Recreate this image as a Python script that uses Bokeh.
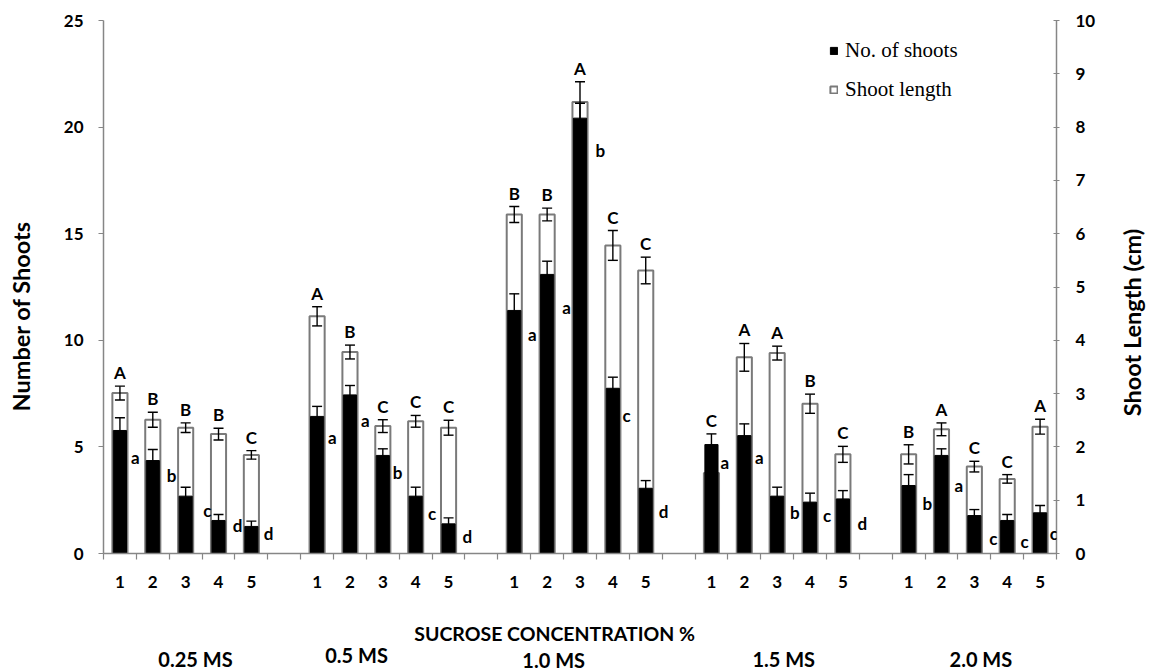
from bokeh.plotting import figure
from bokeh.layouts import row, column
from bokeh.models import (Range1d, LinearAxis, FixedTicker, ColumnDataSource,
                          Legend, LegendItem, LabelSet, Label)
from bokeh.core.properties import value
from bokeh.embed import file_html
from bokeh.resources import INLINE

# ---------------- data ----------------
groups = ["0.25 MS", "0.5 MS", "1.0 MS", "1.5 MS", "2.0 MS"]
treatments = ["1", "2", "3", "4", "5"]

# Number of shoots (left axis) and standard errors
shoots = [5.77, 4.36, 2.69, 1.55, 1.27,
          6.43, 7.44, 4.60, 2.69, 1.39,
          11.40, 13.09, 20.42, 7.75, 3.06,
          5.11, 5.53, 2.69, 2.41, 2.56,
          3.19, 4.60, 1.78, 1.55, 1.91]
shoots_se = [0.60, 0.52, 0.42, 0.28, 0.25,
             0.47, 0.44, 0.31, 0.42, 0.28,
             0.78, 0.62, 0.70, 0.52, 0.36,
             0.50, 0.55, 0.42, 0.42, 0.39,
             0.51, 0.31, 0.28, 0.28, 0.34]

# Shoot length in cm (right axis) and standard errors
length_cm = [3.01, 2.51, 2.36, 2.24, 1.85,
             4.45, 3.78, 2.39, 2.48, 2.36,
             6.36, 6.36, 8.47, 5.78, 5.31,
             1.51, 3.68, 3.76, 2.81, 1.86,
             1.86, 2.33, 1.63, 1.40, 2.38]
length_se = [0.13, 0.14, 0.09, 0.11, 0.08,
             0.18, 0.13, 0.12, 0.11, 0.14,
             0.15, 0.12, 0.38, 0.28, 0.25,
             0.05, 0.26, 0.13, 0.18, 0.15,
             0.18, 0.12, 0.10, 0.08, 0.14]

# significance letters
upper_letters = ["A", "B", "B", "B", "C",
                 "A", "B", "C", "C", "C",
                 "B", "B", "A", "C", "C",
                 "C", "A", "A", "B", "C",
                 "B", "A", "C", "C", "A"]
lower_letters = ["a", "b", "c", "d", "d",
                 "a", "a", "b", "c", "d",
                 "a", "a", "b", "c", "d",
                 "a", "a", "b", "c", "d",
                 "b", "a", "c", "c", "c"]
# height (in number-of-shoots units) at which each lowercase letter sits
lower_letter_y = [4.50, 3.66, 2.02, 1.31, 0.94,
                  5.44, 6.24, 3.80, 1.89, 0.80,
                  10.26, 11.55, 18.90, 6.47, 1.98,
                  4.28, 4.49, 1.91, 1.78, 1.42,
                  2.36, 3.19, 0.69, 0.58, 0.95]

x_title = "SUCROSE CONCENTRATION  %"
y_title_left = "Number of Shoots"
y_title_right = "Shoot Length (cm)"

# ---------------- layout (pixels / positions, not data) ----------------
W, H = 1149, 670
LEFT_W, RIGHT_W = 45, 30          # side panels holding the axis titles
MAIN_H, BOTTOM_H = 593, 77
FRAME_L, FRAME_R, FRAME_T = 103, 1056, 20
FRAME_B = 553

slots = [g * 6 + t for g in range(len(groups)) for t in range(len(treatments))]
X0, X1 = -0.5, 28.5
SLOT_PX = (FRAME_R - FRAME_L) / (X1 - X0)

lower_dx = [0.47, 0.57, 0.66, 0.58, 0.52,
            0.46, 0.47, 0.45, 0.50, 0.57,
            0.55, 0.59, 0.62, 0.42, 0.54,
            0.41, 0.46, 0.54, 0.52, 0.59,
            0.57, 0.53, 0.58, 0.53, 0.42]
group_label_pos = [2.3, 7.2, 13.2, 20.2, 26.2]
group_label_py = [658, 654, 659, 658, 658]   # page y of group names
x_title_pos = 13.3
x_title_py = 633
left_title_px, left_title_py = 20, 329
right_title_px, right_title_py = 1131, 336

RATIO = 25.0 / 10.0  # left-axis units per cm

upper_y = [max(s + se, (l + lse) * RATIO)
           for s, se, l, lse in zip(shoots, shoots_se, length_cm, length_se)]

src = ColumnDataSource(dict(
    x=slots,
    shoots=shoots,
    s_lo=[s - e for s, e in zip(shoots, shoots_se)],
    s_hi=[s + e for s, e in zip(shoots, shoots_se)],
    length=length_cm,
    l_lo=[l - e for l, e in zip(length_cm, length_se)],
    l_hi=[l + e for l, e in zip(length_cm, length_se)],
    upper=upper_letters,
    upper_y=upper_y,
    lower=lower_letters,
    lower_x=[s + d for s, d in zip(slots, lower_dx)],
    lower_y=lower_letter_y,
))

FONT = "Lato"
GRAY = "#868686"


def blank(width, height, x_range, y_range):
    f = figure(width=width, height=height, x_range=x_range, y_range=y_range,
               x_axis_location=None, y_axis_location=None,
               output_backend="svg", toolbar_location=None, min_border=0)
    f.grid.visible = False
    f.outline_line_color = None
    f.background_fill_color = "white"
    f.border_fill_color = "white"
    return f


# ---------------- main chart ----------------
main_w = W - LEFT_W - RIGHT_W
p = figure(width=main_w, height=MAIN_H,
           x_range=Range1d(X0, X1), y_range=Range1d(0, 25),
           x_axis_location=None, y_axis_location=None,
           output_backend="svg", toolbar_location=None,
           min_border_left=FRAME_L - LEFT_W,
           min_border_right=LEFT_W + main_w - FRAME_R,
           min_border_top=FRAME_T, min_border_bottom=MAIN_H - FRAME_B)
p.extra_y_ranges = {"right": Range1d(0, 10)}
p.grid.visible = False
p.outline_line_color = None
p.background_fill_color = "white"
p.border_fill_color = "white"

# white (shoot length) bars behind
white_bars = p.vbar(x="x", top="length", bottom=0, width=0.46, source=src,
                    y_range_name="right", fill_color="white",
                    line_color="#7a7a7a", line_width=2)
p.segment(x0="x", x1="x", y0="l_lo", y1="l_hi", source=src,
          y_range_name="right", line_color="black", line_width=1.4)
for col in ("l_lo", "l_hi"):
    p.scatter(x="x", y=col, marker="dash", size=10, source=src,
              y_range_name="right", line_color="black", line_width=1.4)

# black (number of shoots) bars in front
black_bars = p.vbar(x="x", top="shoots", bottom=0, width=0.40, source=src,
                    fill_color="black", line_color="black", line_width=1)
p.segment(x0="x", x1="x", y0="s_lo", y1="s_hi", source=src,
          line_color="black", line_width=1.4)
for col in ("s_lo", "s_hi"):
    p.scatter(x="x", y=col, marker="dash", size=10, source=src,
              line_color="black", line_width=1.4)

# significance letters
p.add_layout(LabelSet(x="x", y="upper_y", text="upper", source=src,
                      y_offset=7, text_align="center",
                      text_baseline="alphabetic", text_font=value(FONT),
                      text_font_style="bold", text_font_size="17px",
                      text_color="black"))
p.add_layout(LabelSet(x="lower_x", y="lower_y", text="lower", source=src,
                      text_align="center", text_baseline="middle",
                      text_font=value(FONT), text_font_style="bold",
                      text_font_size="17px", text_color="black"))


def style_y(ax):
    ax.axis_line_color = GRAY
    ax.axis_line_width = 1.5
    ax.major_tick_line_color = GRAY
    ax.major_tick_line_width = 1.2
    ax.minor_tick_line_color = None
    ax.major_label_text_font = FONT
    ax.major_label_text_font_style = "bold"
    ax.major_label_text_font_size = "17px"
    ax.major_label_text_color = "black"


yl = LinearAxis(ticker=FixedTicker(ticks=[0, 5, 10, 15, 20, 25]))
style_y(yl)
yl.major_tick_out = 5
yl.major_tick_in = 0
yl.major_label_standoff = 15
p.add_layout(yl, "left")

yr = LinearAxis(y_range_name="right", ticker=FixedTicker(ticks=list(range(11))))
style_y(yr)
yr.major_tick_out = 3
yr.major_tick_in = 3
yr.major_label_standoff = 16
p.add_layout(yr, "right")

x1 = LinearAxis(ticker=FixedTicker(ticks=slots,
                                   minor_ticks=[k - 0.5 for k in range(30)]),
                major_label_overrides={s: treatments[i % 5] for i, s in enumerate(slots)})
x1.axis_line_color = GRAY
x1.axis_line_width = 1.5
x1.major_tick_line_color = None
x1.major_tick_out = 0
x1.major_tick_in = 0
x1.minor_tick_line_color = GRAY
x1.minor_tick_line_width = 1.2
x1.minor_tick_out = 6
x1.minor_tick_in = 0
x1.major_label_standoff = 16
x1.major_label_text_font = FONT
x1.major_label_text_font_style = "bold"
x1.major_label_text_font_size = "17px"
x1.major_label_text_color = "black"
p.add_layout(x1, "below")

legend = Legend(items=[LegendItem(label="No. of shoots", renderers=[black_bars]),
                       LegendItem(label="Shoot length", renderers=[white_bars])],
                location=(726, 451))
legend.label_text_font = "Liberation Serif"
legend.label_text_font_size = "21px"
legend.label_text_color = "black"
legend.glyph_width = 9
legend.glyph_height = 9
legend.label_standoff = 7
legend.label_height = 20
legend.spacing = 14
legend.padding = 0
legend.margin = 0
legend.border_line_color = None
legend.background_fill_alpha = 0
p.add_layout(legend)

# ---------------- side panels with the y-axis titles ----------------
pl = blank(LEFT_W, MAIN_H, Range1d(0, LEFT_W), Range1d(MAIN_H, 0))
pl.add_layout(Label(x=left_title_px, y=left_title_py, text=y_title_left,
                    angle=90, angle_units="deg", text_align="center",
                    text_baseline="alphabetic", text_font=FONT,
                    text_font_style="bold", text_font_size="23.5px",
                    text_color="black"))

pr = blank(RIGHT_W, MAIN_H, Range1d(W - RIGHT_W, W), Range1d(MAIN_H, 0))
pr.add_layout(Label(x=right_title_px, y=right_title_py, text=y_title_right,
                    angle=90, angle_units="deg", text_align="center",
                    text_baseline="alphabetic", text_font=FONT,
                    text_font_style="bold", text_font_size="23.5px",
                    text_color="black"))

# ---------------- bottom panel: x title and group names ----------------
bx0 = X0 - FRAME_L / SLOT_PX
bx1 = X0 + (W - FRAME_L) / SLOT_PX
pb = blank(W, BOTTOM_H, Range1d(bx0, bx1), Range1d(H, MAIN_H))
pb.add_layout(Label(x=x_title_pos, y=x_title_py, text=x_title,
                    text_align="center", text_baseline="middle",
                    text_font=FONT, text_font_style="bold",
                    text_font_size="19.5px", text_color="black"))
grp_src = ColumnDataSource(dict(x=group_label_pos, y=group_label_py, text=groups))
pb.add_layout(LabelSet(x="x", y="y", text="text", source=grp_src,
                       text_align="center", text_baseline="middle",
                       text_font=value(FONT), text_font_style="bold",
                       text_font_size="20px", text_color="black"))

layout = column(row(pl, p, pr, spacing=0), pb, spacing=0)
open("out.html", "w").write(file_html(layout, INLINE))
